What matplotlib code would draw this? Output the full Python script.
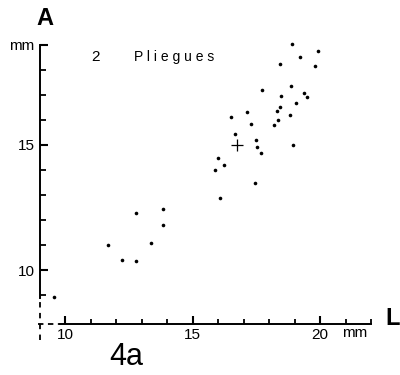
import numpy as np
import matplotlib.pyplot as plt
from matplotlib.ticker import FixedLocator

# longitud L (mm) y anchura A (mm), 2 pliegues
L = [18.89, 19.91, 19.20, 18.43, 19.82, 17.71, 18.85, 19.39, 19.50, 18.46,
     19.06, 17.14, 16.50, 18.43, 18.30, 18.81, 18.35, 18.20, 17.29, 16.68,
     17.49, 17.54, 17.70, 18.94, 16.00, 16.25, 15.88, 17.44, 16.09, 12.80,
     13.84, 13.85, 13.36, 11.67, 12.25, 12.80, 9.58]
A = [19.04, 18.77, 18.52, 18.25, 18.17, 17.19, 17.36, 17.08, 16.91, 16.97,
     16.68, 16.32, 16.12, 16.52, 16.36, 16.20, 15.99, 15.80, 15.83, 15.44,
     15.21, 14.93, 14.69, 15.00, 14.48, 14.20, 13.99, 13.48, 12.88, 12.29,
     12.44, 11.81, 11.07, 10.99, 10.41, 10.37, 8.93]
mean_L, mean_A = 16.76, 14.99

x_ticks = [10, 15, 20]
x_labels = ['10', '15', '20']
x_minor = [11, 12, 13, 14, 16, 17, 18, 19, 21, 22]
y_ticks = [10, 15, 19]
y_labels = ['10', '15', 'mm']
y_minor = [9, 11, 12, 13, 14, 16, 17, 18]

plt.rcParams['font.family'] = ['Liberation Sans', 'DejaVu Sans']

fig = plt.figure(figsize=(4, 3.75), dpi=100)
ax = fig.add_axes([0, 0, 1, 1])
ax.set_xlim(7.451, 23.137)
ax.set_ylim(5.8, 20.8)

x0, y0 = 9.02, 7.86
for s in ['top', 'right']:
    ax.spines[s].set_visible(False)
ax.spines['left'].set_position(('data', x0))
ax.spines['bottom'].set_position(('data', y0))
ax.spines['left'].set_bounds(8.9, 19)
ax.spines['bottom'].set_bounds(9.8, 22.0)
ax.spines['left'].set_linewidth(1.4)
ax.spines['bottom'].set_linewidth(1.4)
# tramos a trazos de los ejes
ax.plot([x0, x0], [7.2, 8.9], color='k', lw=1.3, ls=(0, (3, 3)))
ax.plot([8.95, 9.8], [y0, y0], color='k', lw=1.3, ls=(0, (3, 2.5)))

ax.xaxis.set_major_locator(FixedLocator(x_ticks))
ax.set_xticklabels(x_labels)
ax.yaxis.set_major_locator(FixedLocator(y_ticks))
ax.set_yticklabels(y_labels)
ax.tick_params(which='both', length=0, labelsize=11)
ax.tick_params(axis='y', pad=4)
ax.tick_params(axis='x', pad=3)

# marcas de los ejes (hacia dentro)
ax.vlines(x_ticks, y0, y0 + 0.32, color='k', lw=1.5, zorder=3)
ax.vlines(x_minor, y0, y0 + 0.18, color='k', lw=1.3, zorder=3)
ax.hlines(y_ticks, x0, x0 + 0.30, color='k', lw=1.5, zorder=3)
ax.hlines(y_minor, x0, x0 + 0.22, color='k', lw=1.3, zorder=3)

ax.plot(L, A, 'o', color='k', ms=2.6, mec='none')
ax.plot([mean_L], [mean_A], '+', color='k', ms=8, mew=0.9)

ax.text(0.855, 0.112, 'mm', transform=ax.transAxes, fontsize=11,
        ha='left', va='center')
ax.text(0.24, 0.848, '2', transform=ax.transAxes, fontsize=11,
        ha='center', va='center')
ax.text(0.335, 0.848, 'P l i e g u e s', transform=ax.transAxes, fontsize=10,
        ha='left', va='center')
ax.text(0.113, 0.95, 'A', transform=ax.transAxes, fontsize=17,
        fontweight='bold', ha='center', va='center')
ax.text(0.982, 0.15, 'L', transform=ax.transAxes, fontsize=17,
        fontweight='bold', ha='center', va='center')
ax.text(0.315, 0.048, '4a', transform=ax.transAxes, fontsize=22,
        ha='center', va='center')

fig.savefig('out.png', dpi=100)
